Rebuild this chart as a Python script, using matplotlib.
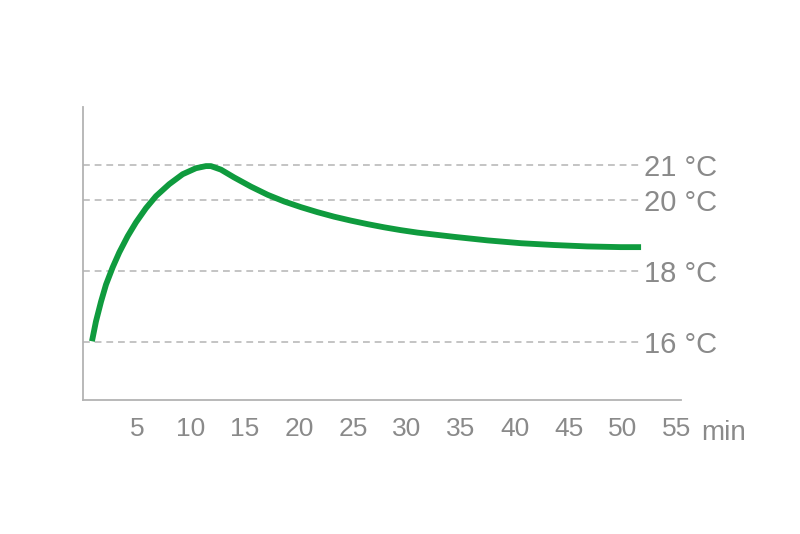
import matplotlib
matplotlib.use("Agg")
import matplotlib.pyplot as plt

plt.rcParams['font.family'] = ['Liberation Sans', 'DejaVu Sans']

# Data
minutes = [0.83, 1.2, 1.67, 2.13, 2.75, 3.36, 4.14, 4.91, 5.83, 6.76, 7.99,
           9.23, 10.46, 11.39, 11.85, 12.78, 14.0, 15.56, 17.1, 18.64, 20.19,
           21.7, 23.27, 24.81, 26.36, 27.9, 29.44, 31.0, 34.4, 37.5, 40.6,
           43.6, 46.7, 49.8, 51.7]
temps = [16.02, 16.58, 17.14, 17.62, 18.11, 18.53, 18.99, 19.38, 19.78, 20.12, 20.46,
         20.74, 20.91, 20.97, 20.97, 20.87, 20.65, 20.39, 20.16, 19.97, 19.81,
         19.67, 19.54, 19.43, 19.33, 19.24, 19.16, 19.09, 18.97, 18.87, 18.79,
         18.74, 18.70, 18.68, 18.68]

x_ticks = [5, 10, 15, 20, 25, 30, 35, 40, 45, 50, 55]
x_unit = "min"
ref_temps = [21, 20, 18, 16]
ref_labels = ["21 °C", "20 °C", "18 °C", "16 °C"]

text_color = "#8a8a8a"
grid_color = "#c4c4c4"
spine_color = "#b3b3b3"
line_color = "#0f9b3e"

fig = plt.figure(figsize=(8, 5.34), dpi=100)
ax = fig.add_axes([83/800, 1-400/534, (681-83)/800, (400-107)/534])

ax.set_xlim(0, 55.4)
ax.set_ylim(14.36, 22.64)

ax.hlines(ref_temps, 0, 51.85, colors=grid_color, linewidth=1.4,
          linestyles=(0, (3.5, 2.5)), zorder=1)
for t, lab in zip(ref_temps, ref_labels):
    ax.text(51.95, t, lab, ha='left', va='center_baseline', fontsize=21,
            color=text_color, clip_on=False)

ax.plot(minutes, temps, color=line_color, linewidth=4.2,
        solid_capstyle='butt', solid_joinstyle='round', zorder=3)

for s in ['top', 'right']:
    ax.spines[s].set_visible(False)
for s in ['left', 'bottom']:
    ax.spines[s].set_color(spine_color)
    ax.spines[s].set_linewidth(1.3)

ax.set_xticks(x_ticks)
ax.set_xticklabels([str(v) for v in x_ticks])
ax.set_yticks([])
ax.tick_params(axis='x', length=0, pad=12, labelsize=19, labelcolor=text_color)

fig.text(701/800, 1-440/534, x_unit, ha='left', va='baseline',
         fontsize=20, color=text_color)

fig.savefig("out.png", dpi=100, facecolor="white")
